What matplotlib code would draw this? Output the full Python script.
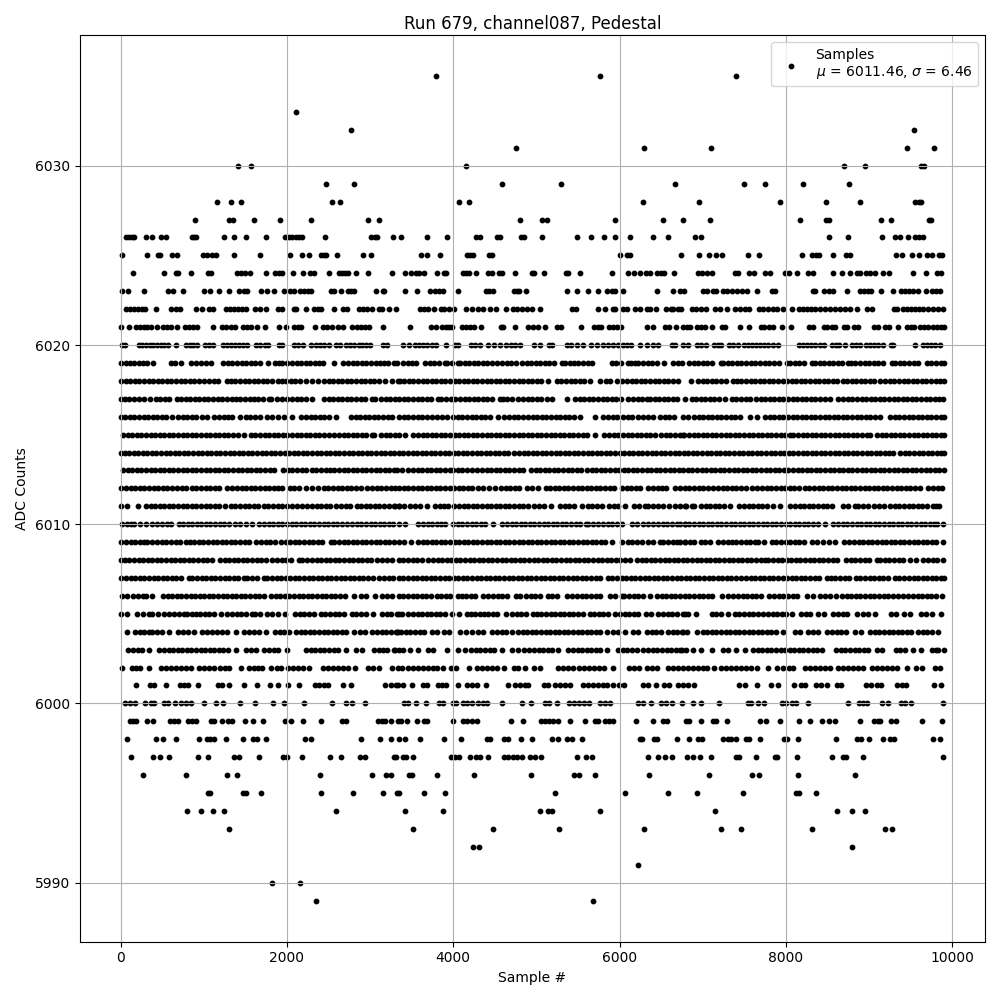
import numpy as np
import matplotlib
matplotlib.use('Agg')
import matplotlib.pyplot as plt

# sample numbers, one list per ADC level
s6035 = [3794, 5767, 7404]
s6033 = [2113]
s6032 = [2775, 9545]
s6031 = [4757, 6296, 7103, 9453, 9786]
s6030 = [1416, 1572, 4155, 8703, 8956, 9629, 9665]
s6029 = [2474, 2811, 4588, 5298, 6669, 7500, 7753, 8210, 8763]
s6028 = [1163, 1331, 1452, 2546, 2643, 4071, 4191, 6284, 6959, 7933, 8486, 8895, 9557, 9605, 9629]
s6027 = [898, 1307, 1355, 1608, 1921, 2294, 2980, 3112, 4805, 5069, 5130, 5948, 6525, 6766, 7091, 8174,
         8486, 8522, 9148, 9268, 9726, 9750]
s6026 = [68, 104, 140, 164, 309, 381, 489, 549, 862, 886, 910, 1247, 1367, 1512, 1752, 1981, 2029, 2065,
         2105, 2145, 2177, 2462, 3016, 3064, 3088, 3280, 3373, 3686, 3927, 4275, 4323, 4528, 4564, 4817,
         4853, 5069, 5490, 5659, 5815, 5948, 6128, 6405, 6585, 6910, 6983, 8522, 8751, 9160, 9316, 9377,
         9473, 9557, 9605, 9653]
s6025 = [20, 321, 453, 477, 622, 682, 994, 1042, 1103, 1151, 1367, 1680, 2041, 2185, 2270, 2414, 2446,
         2474, 2606, 2919, 3016, 3614, 3686, 3842, 4167, 4203, 4239, 4432, 4468, 6008, 6092, 6128, 6738,
         6959, 7079, 7163, 7235, 7540, 7680, 8198, 8318, 8366, 8402, 8570, 8727, 8775, 9329, 9401, 9521,
         9605, 9701, 9762, 9846, 9882]
s6024 = [152, 525, 670, 694, 850, 1055, 1091, 1403, 1452, 1500, 1560, 1752, 1861, 1909, 1945, 2077, 2197,
         2282, 2330, 2510, 2630, 2667, 2703, 2739, 2835, 2980, 3268, 3421, 3493, 3554, 3590, 3650, 3806,
         3890, 3914, 4119, 4155, 4191, 4275, 4420, 4468, 4552, 4588, 4745, 4949, 4973, 5093, 5358, 5382,
         5527, 5911, 6104, 6176, 6248, 6321, 6369, 6453, 6501, 6537, 6657, 6947, 6995, 7055, 7115, 7392,
         7428, 7560, 7620, 7753, 7813, 7993, 8041, 8137, 8270, 8330, 8570, 8679, 8775, 8859, 8895, 8968,
         9016, 9076, 9172, 9244, 9533, 9689, 9822, 9870]
s6023 = [20, 92, 285, 573, 634, 754, 1006, 1079, 1187, 1307, 1428, 1488, 1524, 1692, 1764, 1849, 1969,
         2041, 2089, 2161, 2210, 2258, 2294, 2534, 2570, 2655, 2739, 2775, 2811, 3076, 3160, 3172, 3421,
         3566, 3722, 3782, 3830, 3878, 4059, 4396, 4432, 4480, 4733, 4769, 4793, 4877, 5370, 5490, 5623,
         5743, 5851, 5911, 5948, 6044, 6453, 6645, 6730, 6774, 7007, 7055, 7127, 7163, 7247, 7295, 7356,
         7416, 7476, 7536, 7656, 7837, 7873, 8330, 8354, 8462, 8522, 8570, 8739, 8895, 8944, 8992, 9028,
         9148, 9293, 9389, 9437, 9485, 9533, 9593, 9689, 9762, 9810, 9858]
s6022 = [68, 116, 164, 212, 261, 297, 429, 610, 670, 718, 910, 982, 1067, 1115, 1271, 1319, 1367, 1416,
         1464, 1504, 1620, 1680, 1752, 1897, 1945, 2085, 2113, 2230, 2326, 2374, 2410, 2566, 2679, 2727,
         2871, 2919, 2967, 3028, 3112, 3148, 3232, 3309, 3602, 3650, 3698, 3770, 3854, 3890, 3951, 4011,
         4155, 4227, 4300, 4360, 4444, 4516, 4636, 4720, 4769, 4829, 4889, 4949, 5045, 5430, 5478, 5743,
         5827, 5924, 5948, 6044, 6092, 6188, 6248, 6333, 6369, 6441, 6561, 6621, 6645, 6705, 6741, 6874,
         6922, 6983, 7043, 7151, 7211, 7295, 7392, 7452, 7512, 7560, 7680, 7729, 7789, 7849, 7897, 7969,
         8077, 8162, 8210, 8258, 8306, 8354, 8414, 8474, 8535, 8595, 8655, 8715, 8775, 8859, 8980, 9040,
         9304, 9341, 9413, 9461, 9509, 9557, 9605, 9653, 9713, 9774, 9834, 9894]
s6021 = [8, 104, 188, 237, 285, 321, 369, 441, 513, 561, 610, 682, 778, 826, 874, 922, 1115, 1223, 1271,
         1331, 1380, 1476, 1524, 1572, 1644, 1740, 1905, 1993, 2089, 2137, 2173, 2342, 2438, 2486, 2546,
         2618, 2679, 2787, 2847, 2895, 2943, 2991, 3160, 3481, 3734, 3794, 3866, 3914, 3951, 3987, 4107,
         4155, 4203, 4251, 4336, 4576, 4600, 4745, 4901, 4961, 5021, 5105, 5250, 5298, 5539, 5695, 5743,
         5779, 5875, 5924, 5972, 6020, 6333, 6405, 6549, 6597, 6681, 6766, 6814, 6850, 6934, 6983, 7031,
         7115, 7235, 7271, 7452, 7560, 7704, 7741, 7801, 7849, 7957, 8065, 8282, 8330, 8462, 8498, 8559,
         8595, 8703, 8739, 8823, 8871, 9064, 9112, 9196, 9244, 9353, 9461, 9509, 9545, 9617, 9665, 9713,
         9774, 9822, 9870, 9899]
s6020 = [10, 50, 220, 262, 305, 350, 390, 435, 480, 525, 570, 660, 780, 830, 875, 920, 1010, 1060, 1105,
         1235, 1280, 1330, 1375, 1420, 1470, 1515, 1630, 1680, 1730, 1775, 1900, 1940, 2090, 2135, 2190,
         2290, 2345, 2400, 2440, 2510, 2590, 2640, 2710, 2760, 2800, 2860, 2900, 2950, 3000, 3160, 3205,
         3397, 3469, 3542, 3590, 3638, 3686, 3746, 3794, 3914, 4023, 4059, 4215, 4263, 4323, 4420, 4492,
         4564, 4636, 4696, 4745, 4805, 4973, 5045, 5154, 5190, 5370, 5418, 5490, 5563, 5659, 5731, 5803,
         5863, 5924, 5984, 6044, 6092, 6140, 6248, 6333, 6405, 6465, 6633, 6669, 6766, 6826, 6934, 6983,
         7043, 7139, 7187, 7223, 7320, 7368, 7428, 7500, 7548, 7596, 7644, 7692, 7741, 7789, 7849, 7909,
         8162, 8210, 8258, 8306, 8354, 8414, 8462, 8559, 8607, 8643, 8715, 8799, 8847, 8895, 8968, 9016,
         9064, 9112, 9172, 9268, 9293, 9557, 9653, 9701, 9750, 9798, 9858]
s6019 = [8, 60, 110, 165, 215, 270, 320, 393, 601, 654, 730, 850, 905, 960, 1020, 1091, 1235, 1290, 1340,
         1400, 1455, 1510, 1565, 1620, 1675, 1776, 1857, 1905, 1945, 2005, 2060, 2115, 2170, 2225, 2280,
         2335, 2390, 2438, 2570, 2679, 2735, 2790, 2845, 2900, 2955, 3010, 3065, 3120, 3170, 3220, 3292,
         3325, 3397, 3450, 3500, 3546, 3658, 3715, 3770, 3825, 3898, 3919, 3985, 4051, 4079, 4135, 4190,
         4245, 4300, 4355, 4410, 4465, 4520, 4580, 4640, 4695, 4750, 4829, 4881, 4935, 4990, 5045, 5100,
         5155, 5210, 5302, 5342, 5400, 5455, 5503, 5563, 5615, 5663, 5904, 5960, 6020, 6104, 6136, 6180,
         6224, 6284, 6340, 6395, 6450, 6537, 6645, 6700, 6745, 6838, 6890, 6945, 7000, 7055, 7110, 7215,
         7247, 7300, 7355, 7410, 7465, 7520, 7575, 7630, 7690, 7749, 7801, 7860, 7915, 8009, 8049, 8105,
         8160, 8215, 8310, 8350, 8410, 8458, 8515, 8570, 8625, 8680, 8751, 8779, 8835, 8890, 8945, 9000,
         9055, 9110, 9165, 9272, 9313, 9370, 9425, 9480, 9535, 9593, 9693, 9750, 9805, 9860, 9899]
s6018 = [8, 60, 115, 170, 225, 280, 335, 390, 445, 500, 555, 610, 665, 720, 775, 830, 885, 945, 1002,
         1063, 1120, 1175, 1283, 1323, 1380, 1435, 1490, 1545, 1600, 1655, 1710, 1765, 1820, 1893, 1937,
         1990, 2045, 2100, 2155, 2234, 2302, 2374, 2440, 2506, 2554, 2610, 2665, 2720, 2775, 2830, 2885,
         2940, 2995, 3050, 3108, 3176, 3268, 3340, 3357, 3410, 3465, 3520, 3575, 3630, 3685, 3740, 3795,
         3850, 3905, 3960, 4015, 4070, 4125, 4180, 4235, 4290, 4345, 4400, 4455, 4510, 4565, 4620, 4675,
         4730, 4785, 4840, 4895, 4950, 5005, 5060, 5142, 5242, 5300, 5355, 5410, 5465, 5520, 5575, 5643,
         5763, 5831, 5890, 5964, 6032, 6090, 6145, 6200, 6255, 6310, 6365, 6420, 6475, 6530, 6585, 6640,
         6705, 6858, 6947, 7000, 7055, 7110, 7165, 7220, 7275, 7368, 7408, 7465, 7520, 7575, 7630, 7685,
         7740, 7795, 7850, 7905, 7960, 8015, 8070, 8125, 8180, 8235, 8290, 8345, 8400, 8455, 8510, 8565,
         8620, 8691, 8731, 8790, 8845, 8900, 8955, 9010, 9065, 9132, 9192, 9250, 9305, 9360, 9415, 9470,
         9525, 9580, 9635, 9690, 9745, 9800, 9855, 9899]
s6017 = [0, 50, 105, 160, 215, 281, 349, 421, 475, 530, 585, 682, 722, 780, 835, 890, 945, 1000, 1055,
         1110, 1165, 1220, 1275, 1343, 1383, 1440, 1495, 1550, 1604, 1652, 1715, 1784, 1813, 1875, 1945,
         2001, 2060, 2115, 2170, 2225, 2306, 2446, 2500, 2555, 2610, 2665, 2720, 2775, 2830, 2885, 2940,
         3028, 3060, 3128, 3185, 3240, 3295, 3348, 3405, 3460, 3515, 3570, 3625, 3680, 3735, 3818, 3858,
         3915, 3970, 4025, 4080, 4135, 4190, 4245, 4300, 4355, 4410, 4465, 4560, 4600, 4650, 4700, 4781,
         4840, 4895, 4950, 5005, 5060, 5121, 5190, 5370, 5462, 5520, 5575, 5630, 5685, 5740, 5795, 5850,
         5905, 5960, 6015, 6104, 6164, 6220, 6275, 6325, 6365, 6420, 6475, 6530, 6585, 6640, 6695, 6786,
         6866, 6918, 6975, 7030, 7085, 7140, 7195, 7267, 7348, 7405, 7460, 7515, 7568, 7640, 7695, 7750,
         7805, 7860, 7915, 7970, 8025, 8080, 8135, 8190, 8245, 8300, 8355, 8410, 8470, 8535, 8631, 8690,
         8745, 8800, 8855, 8910, 8965, 9020, 9075, 9130, 9185, 9240, 9295, 9350, 9405, 9460, 9515, 9570,
         9625, 9680, 9735, 9790, 9845, 9894]
s6016 = [0, 55, 110, 165, 220, 275, 330, 385, 440, 495, 550, 622, 690, 745, 800, 854, 910, 975, 1043,
         1127, 1185, 1240, 1295, 1343, 1432, 1504, 1560, 1615, 1670, 1764, 1825, 1895, 1965, 2065, 2173,
         2230, 2285, 2340, 2395, 2450, 2505, 2586, 2767, 2825, 2880, 2935, 2990, 3045, 3100, 3155, 3210,
         3265, 3348, 3405, 3457, 3515, 3570, 3625, 3680, 3738, 3798, 3860, 3930, 3999, 4055, 4110, 4165,
         4220, 4275, 4330, 4385, 4440, 4540, 4612, 4670, 4725, 4781, 4841, 4900, 4955, 5010, 5065, 5120,
         5175, 5230, 5285, 5340, 5395, 5450, 5522, 5703, 5803, 5860, 5915, 5970, 6044, 6104, 6144, 6216,
         6284, 6345, 6405, 6485, 6540, 6595, 6650, 6766, 6826, 6894, 6950, 7005, 7060, 7115, 7170, 7225,
         7280, 7335, 7390, 7448, 7568, 7656, 7749, 7805, 7860, 7915, 7970, 8025, 8080, 8135, 8190, 8245,
         8300, 8355, 8410, 8465, 8520, 8575, 8630, 8685, 8740, 8795, 8850, 8905, 8960, 9015, 9070, 9132,
         9253, 9310, 9365, 9420, 9475, 9530, 9585, 9640, 9695, 9750, 9805, 9860, 9899]
s6015 = [28, 85, 140, 195, 250, 305, 360, 415, 470, 525, 580, 635, 690, 745, 800, 855, 902, 962, 1020,
         1075, 1130, 1185, 1240, 1295, 1350, 1405, 1484, 1564, 1620, 1675, 1730, 1785, 1840, 1895, 1950,
         2005, 2060, 2115, 2170, 2225, 2280, 2335, 2390, 2445, 2506, 2566, 2625, 2680, 2735, 2790, 2845,
         2900, 2955, 3028, 3048, 3128, 3185, 3240, 3295, 3348, 3417, 3518, 3575, 3630, 3685, 3740, 3795,
         3850, 3905, 3960, 4015, 4070, 4125, 4180, 4235, 4290, 4345, 4400, 4455, 4510, 4565, 4620, 4675,
         4730, 4785, 4840, 4895, 4950, 5005, 5060, 5115, 5170, 5225, 5280, 5335, 5390, 5445, 5500, 5555,
         5610, 5703, 5815, 5875, 5930, 5985, 6040, 6095, 6150, 6205, 6260, 6315, 6370, 6425, 6497, 6555,
         6610, 6665, 6766, 6726, 6780, 6835, 6890, 6945, 7000, 7055, 7110, 7165, 7220, 7275, 7330, 7385,
         7440, 7495, 7550, 7605, 7660, 7715, 7770, 7825, 7880, 7935, 7990, 8049, 8089, 8145, 8200, 8255,
         8310, 8365, 8420, 8475, 8530, 8585, 8640, 8695, 8750, 8805, 8860, 8915, 8970, 9012, 9092, 9150,
         9205, 9260, 9315, 9370, 9425, 9480, 9535, 9590, 9645, 9700, 9755, 9810, 9865, 9899]
s6014 = [0, 50, 100, 155, 210, 265, 320, 375, 430, 485, 540, 595, 650, 705, 760, 815, 870, 925, 980, 1035,
         1090, 1145, 1200, 1255, 1310, 1365, 1420, 1475, 1530, 1585, 1640, 1695, 1750, 1805, 1860, 1915,
         1970, 2025, 2080, 2135, 2190, 2245, 2300, 2355, 2410, 2465, 2520, 2575, 2630, 2685, 2740, 2795,
         2850, 2905, 2960, 3015, 3070, 3125, 3180, 3235, 3290, 3345, 3400, 3455, 3510, 3565, 3620, 3675,
         3730, 3785, 3840, 3895, 3950, 4005, 4060, 4115, 4170, 4225, 4280, 4335, 4390, 4445, 4500, 4555,
         4610, 4660, 4733, 4790, 4845, 4900, 4955, 5010, 5065, 5120, 5175, 5230, 5285, 5340, 5395, 5450,
         5505, 5560, 5615, 5670, 5725, 5780, 5835, 5890, 5945, 6000, 6055, 6110, 6165, 6220, 6275, 6330,
         6385, 6440, 6495, 6550, 6605, 6660, 6715, 6770, 6825, 6880, 6935, 6990, 7045, 7100, 7155, 7210,
         7265, 7320, 7375, 7430, 7485, 7540, 7595, 7650, 7705, 7760, 7815, 7870, 7925, 7980, 8035, 8090,
         8145, 8200, 8255, 8310, 8365, 8420, 8475, 8530, 8585, 8640, 8695, 8750, 8805, 8860, 8915, 8970,
         9025, 9080, 9135, 9190, 9245, 9292, 9373, 9430, 9485, 9540, 9595, 9650, 9705, 9760, 9815, 9870,
         9899]
s6013 = [28, 85, 140, 195, 250, 305, 360, 415, 470, 525, 580, 635, 690, 745, 800, 855, 910, 965, 1020,
         1075, 1130, 1185, 1240, 1295, 1350, 1405, 1460, 1515, 1570, 1625, 1680, 1735, 1790, 1845, 1953,
         2010, 2065, 2120, 2175, 2230, 2298, 2354, 2410, 2466, 2514, 2570, 2625, 2680, 2735, 2790, 2845,
         2900, 2955, 3010, 3065, 3120, 3175, 3230, 3285, 3328, 3377, 3457, 3515, 3570, 3625, 3680, 3735,
         3790, 3845, 3900, 3955, 3999, 4059, 4110, 4159, 4219, 4285, 4348, 4400, 4455, 4510, 4565, 4620,
         4675, 4730, 4785, 4841, 4933, 4990, 5045, 5100, 5155, 5210, 5265, 5320, 5375, 5430, 5485, 5540,
         5603, 5663, 5720, 5775, 5830, 5885, 5940, 5995, 6050, 6105, 6160, 6215, 6270, 6325, 6380, 6435,
         6490, 6545, 6600, 6655, 6710, 6765, 6820, 6875, 6930, 6985, 7040, 7095, 7150, 7205, 7260, 7315,
         7370, 7425, 7480, 7535, 7590, 7645, 7700, 7755, 7810, 7865, 7920, 7975, 8030, 8085, 8140, 8195,
         8250, 8305, 8360, 8415, 8470, 8525, 8580, 8635, 8690, 8745, 8800, 8855, 8910, 8965, 9020, 9075,
         9130, 9185, 9240, 9295, 9350, 9405, 9460, 9515, 9570, 9625, 9680, 9735, 9790, 9845, 9899]
s6012 = [8, 65, 120, 175, 230, 285, 340, 395, 450, 505, 561, 622, 680, 735, 790, 854, 910, 965, 1020, 1075,
         1130, 1185, 1283, 1343, 1400, 1455, 1510, 1565, 1620, 1675, 1730, 1785, 1840, 1895, 1945, 2033,
         2090, 2145, 2226, 2306, 2375, 2446, 2498, 2555, 2610, 2665, 2720, 2775, 2830, 2887, 2967, 3025,
         3080, 3135, 3190, 3245, 3300, 3348, 3405, 3460, 3515, 3570, 3625, 3680, 3735, 3790, 3845, 3900,
         3955, 4010, 4065, 4120, 4175, 4230, 4300, 4360, 4430, 4500, 4572, 4630, 4685, 4740, 4795, 4889,
         4949, 5021, 5109, 5165, 5220, 5275, 5330, 5385, 5440, 5495, 5550, 5605, 5660, 5715, 5770, 5825,
         5880, 5935, 6024, 6084, 6140, 6195, 6250, 6345, 6405, 6465, 6505, 6560, 6665, 6726, 6786, 6840,
         6895, 6950, 7005, 7067, 7127, 7185, 7240, 7295, 7350, 7405, 7460, 7515, 7588, 7656, 7715, 7770,
         7825, 7880, 7935, 7990, 8045, 8100, 8155, 8230, 8282, 8340, 8395, 8450, 8505, 8560, 8615, 8670,
         8725, 8780, 8835, 8890, 8945, 9000, 9055, 9110, 9165, 9220, 9275, 9330, 9385, 9440, 9495, 9550,
         9613, 9713, 9770, 9825, 9880]
s6011 = [0, 80, 212, 301, 360, 415, 470, 525, 580, 635, 690, 745, 802, 854, 910, 965, 1020, 1075, 1130,
         1183, 1251, 1323, 1380, 1435, 1490, 1545, 1600, 1655, 1724, 1776, 1835, 1890, 1945, 2000, 2055,
         2125, 2185, 2245, 2300, 2355, 2410, 2465, 2520, 2586, 2646, 2705, 2760, 2847, 2887, 2945, 3000,
         3055, 3110, 3165, 3228, 3288, 3348, 3297, 3350, 3410, 3477, 3538, 3600, 3678, 3778, 3835, 3890,
         3939, 4011, 4070, 4125, 4180, 4235, 4290, 4345, 4400, 4455, 4510, 4565, 4620, 4675, 4730, 4785,
         4840, 4901, 4973, 5030, 5085, 5174, 5282, 5340, 5395, 5450, 5543, 5615, 5670, 5725, 5791, 5871,
         5930, 5985, 6064, 6172, 6235, 6305, 6337, 6405, 6465, 6520, 6593, 6665, 6725, 6786, 6798, 6866,
         6894, 6975, 7035, 7090, 7145, 7200, 7255, 7327, 7436, 7495, 7550, 7605, 7660, 7715, 7770, 7841,
         7929, 8049, 8110, 8165, 8220, 8275, 8330, 8385, 8440, 8495, 8551, 8691, 8750, 8831, 8871, 8930,
         8985, 9060, 9124, 9180, 9253, 9310, 9365, 9420, 9475, 9530, 9585, 9640, 9693, 9766, 9810, 9846]
s6010 = [12, 70, 120, 160, 237, 309, 381, 441, 500, 555, 610, 702, 750, 805, 860, 915, 970, 1025, 1080,
         1135, 1190, 1245, 1303, 1375, 1440, 1504, 1584, 1664, 1724, 1780, 1835, 1890, 1945, 2000, 2055,
         2110, 2165, 2220, 2275, 2330, 2385, 2440, 2495, 2550, 2605, 2667, 2727, 2785, 2840, 2895, 2950,
         3005, 3060, 3115, 3170, 3225, 3280, 3348, 3417, 3578, 3640, 3700, 3738, 3798, 3850, 3898, 3999,
         4055, 4110, 4165, 4220, 4275, 4330, 4385, 4480, 4588, 4645, 4700, 4755, 4810, 4865, 4920, 4975,
         5030, 5085, 5140, 5195, 5250, 5305, 5360, 5415, 5470, 5525, 5591, 5615, 5683, 5745, 5800, 5855,
         5910, 5965, 6024, 6152, 6215, 6284, 6345, 6405, 6465, 6520, 6575, 6630, 6685, 6786, 6726, 6785,
         6840, 6895, 6950, 7005, 7060, 7115, 7170, 7225, 7280, 7335, 7390, 7445, 7500, 7555, 7610, 7665,
         7720, 7775, 7830, 7885, 7940, 7995, 8050, 8105, 8160, 8215, 8270, 8325, 8380, 8470, 8571, 8630,
         8685, 8740, 8795, 8850, 8905, 8960, 9015, 9070, 9125, 9180, 9235, 9290, 9345, 9400, 9455, 9510,
         9565, 9620, 9675, 9730, 9785, 9814, 9894]
s6009 = [8, 65, 120, 175, 230, 285, 321, 381, 440, 495, 550, 605, 660, 715, 782, 830, 885, 940, 995, 1050,
         1105, 1160, 1215, 1270, 1325, 1380, 1435, 1490, 1545, 1624, 1684, 1745, 1800, 1853, 1925, 1985,
         2040, 2095, 2150, 2205, 2260, 2315, 2370, 2425, 2526, 2566, 2625, 2680, 2735, 2790, 2845, 2900,
         2955, 3010, 3065, 3120, 3175, 3230, 3285, 3348, 3405, 3489, 3570, 3630, 3685, 3740, 3795, 3850,
         3905, 3960, 4015, 4070, 4125, 4180, 4235, 4290, 4345, 4400, 4455, 4510, 4565, 4620, 4675, 4730,
         4785, 4840, 4895, 4950, 5005, 5060, 5115, 5170, 5225, 5280, 5335, 5390, 5445, 5500, 5555, 5610,
         5665, 5720, 5775, 5830, 5903, 6024, 6104, 6152, 6210, 6265, 6337, 6405, 6485, 6525, 6585, 6640,
         6695, 6786, 6726, 6790, 6845, 6900, 6975, 7027, 7085, 7187, 7247, 7307, 7348, 7405, 7460, 7515,
         7570, 7625, 7668, 7737, 7829, 7881, 7940, 7995, 8050, 8105, 8160, 8215, 8310, 8370, 8440, 8522,
         8591, 8699, 8763, 8820, 8875, 8930, 8985, 9040, 9095, 9150, 9205, 9260, 9315, 9370, 9425, 9480,
         9535, 9590, 9645, 9700, 9755, 9810, 9894]
s6008 = [0, 50, 105, 160, 215, 270, 325, 380, 435, 490, 545, 600, 655, 710, 765, 820, 875, 930, 985, 1040,
         1103, 1191, 1250, 1305, 1360, 1415, 1470, 1525, 1580, 1635, 1690, 1745, 1817, 1877, 1935, 1990,
         2045, 2145, 2185, 2245, 2300, 2355, 2410, 2465, 2520, 2575, 2630, 2685, 2740, 2795, 2850, 2905,
         2960, 3015, 3088, 3148, 3205, 3260, 3348, 3400, 3455, 3510, 3565, 3618, 3698, 3755, 3810, 3865,
         3920, 3975, 4030, 4085, 4140, 4195, 4250, 4305, 4360, 4415, 4470, 4525, 4580, 4635, 4690, 4745,
         4800, 4855, 4910, 4965, 5020, 5075, 5130, 5185, 5240, 5295, 5350, 5405, 5460, 5515, 5570, 5625,
         5680, 5735, 5790, 5845, 5900, 5955, 6010, 6065, 6120, 6204, 6264, 6320, 6375, 6430, 6485, 6540,
         6595, 6650, 6705, 6760, 6815, 6870, 6925, 6980, 7035, 7090, 7145, 7200, 7255, 7310, 7365, 7420,
         7475, 7530, 7585, 7640, 7695, 7749, 7789, 7845, 7900, 7955, 8010, 8065, 8120, 8175, 8230, 8285,
         8340, 8395, 8450, 8510, 8563, 8620, 8723, 8779, 8835, 8890, 8945, 9000, 9092, 9132, 9190, 9245,
         9300, 9355, 9410, 9493, 9565, 9653, 9710, 9765, 9820, 9894]
s6007 = [8, 65, 120, 175, 230, 285, 340, 395, 450, 505, 560, 615, 670, 725, 822, 862, 920, 975, 1030, 1085,
         1140, 1195, 1250, 1305, 1360, 1415, 1484, 1524, 1580, 1635, 1724, 1764, 1820, 1875, 1930, 1985,
         2040, 2095, 2150, 2205, 2260, 2315, 2370, 2425, 2480, 2535, 2590, 2645, 2700, 2755, 2810, 2865,
         2920, 2975, 3030, 3108, 3168, 3225, 3280, 3348, 3400, 3455, 3510, 3565, 3620, 3675, 3730, 3785,
         3840, 3895, 3950, 4005, 4060, 4115, 4170, 4225, 4280, 4335, 4390, 4445, 4500, 4555, 4610, 4665,
         4720, 4775, 4830, 4885, 4940, 4995, 5050, 5105, 5160, 5215, 5270, 5325, 5380, 5435, 5490, 5545,
         5600, 5655, 5710, 5765, 5863, 5911, 5970, 6025, 6080, 6135, 6190, 6245, 6300, 6355, 6410, 6465,
         6520, 6575, 6630, 6685, 6740, 6795, 6850, 6905, 6960, 7015, 7070, 7125, 7180, 7235, 7290, 7345,
         7400, 7460, 7520, 7575, 7630, 7685, 7740, 7795, 7850, 7905, 7960, 8015, 8070, 8125, 8180, 8235,
         8290, 8345, 8400, 8490, 8538, 8595, 8650, 8705, 8760, 8843, 8891, 8950, 9005, 9060, 9115, 9170,
         9225, 9313, 9365, 9425, 9480, 9535, 9590, 9645, 9700, 9755, 9810, 9865, 9899]
s6006 = [12, 80, 148, 210, 269, 309, 381, 509, 565, 620, 675, 730, 785, 840, 895, 950, 1005, 1060, 1115,
         1170, 1225, 1280, 1335, 1390, 1445, 1500, 1555, 1610, 1665, 1724, 1805, 1865, 1920, 1975, 2030,
         2085, 2140, 2195, 2250, 2305, 2360, 2415, 2470, 2525, 2580, 2635, 2699, 2807, 2887, 2955, 3060,
         3148, 3205, 3260, 3348, 3400, 3455, 3510, 3565, 3620, 3675, 3730, 3798, 3850, 3910, 3965, 4059,
         4099, 4155, 4210, 4265, 4360, 4420, 4480, 4535, 4590, 4645, 4749, 4797, 4869, 4930, 4985, 5040,
         5142, 5190, 5250, 5362, 5430, 5490, 5545, 5600, 5655, 5710, 5765, 5883, 5944, 6024, 6056, 6115,
         6170, 6225, 6280, 6365, 6445, 6505, 6560, 6615, 6670, 6725, 6786, 6840, 6895, 6950, 7005, 7060,
         7115, 7227, 7307, 7368, 7425, 7480, 7535, 7590, 7645, 7700, 7801, 7857, 7915, 7970, 8025, 8080,
         8135, 8250, 8322, 8410, 8470, 8525, 8603, 8671, 8730, 8785, 8840, 8895, 8950, 9005, 9060, 9115,
         9180, 9232, 9293, 9353, 9413, 9473, 9530, 9585, 9640, 9695, 9750, 9805, 9874]
s6005 = [0, 80, 200, 270, 341, 381, 450, 521, 581, 640, 700, 762, 802, 860, 910, 950, 1010, 1065, 1120,
         1203, 1283, 1340, 1395, 1450, 1505, 1584, 1616, 1675, 1764, 1825, 1890, 1977, 2097, 2155, 2210,
         2265, 2320, 2410, 2462, 2520, 2575, 2630, 2685, 2787, 2835, 2895, 2955, 3040, 3140, 3200, 3255,
         3348, 3317, 3385, 3457, 3515, 3570, 3625, 3680, 3735, 3790, 3845, 3900, 3979, 4067, 4159, 4215,
         4259, 4319, 4365, 4412, 4472, 4530, 4632, 4700, 4760, 4815, 4870, 4961, 5001, 5060, 5115, 5170,
         5225, 5280, 5335, 5390, 5445, 5500, 5555, 5643, 5691, 5750, 5805, 5860, 5944, 6004, 6060, 6115,
         6170, 6225, 6313, 6377, 6465, 6525, 6580, 6635, 6690, 6786, 6766, 6825, 6918, 7107, 7160, 7215,
         7307, 7388, 7436, 7495, 7550, 7605, 7668, 7729, 7785, 7840, 7895, 7950, 8005, 8069, 8178, 8240,
         8295, 8390, 8458, 8571, 8630, 8685, 8740, 8851, 8932, 8990, 9072, 9261, 9320, 9421, 9497, 9621,
         9680, 9754, 9870]
s6004 = [80, 173, 230, 285, 341, 381, 440, 495, 581, 694, 750, 805, 882, 982, 1040, 1095, 1163, 1223, 1280,
         1383, 1484, 1545, 1600, 1664, 1752, 1853, 1910, 1965, 2029, 2105, 2165, 2220, 2275, 2330, 2385,
         2440, 2495, 2550, 2605, 2660, 2715, 2807, 2875, 2935, 3028, 3080, 3140, 3195, 3250, 3308, 3340,
         3317, 3375, 3430, 3485, 3540, 3595, 3650, 3738, 3806, 3890, 3950, 4079, 4147, 4227, 4300, 4360,
         4460, 4520, 4580, 4635, 4708, 4773, 4835, 4890, 4945, 5000, 5055, 5110, 5165, 5220, 5275, 5330,
         5385, 5440, 5495, 5550, 5605, 5660, 5715, 5770, 5843, 5924, 5985, 6064, 6164, 6224, 6325, 6385,
         6440, 6495, 6585, 6645, 6685, 6754, 6758, 6815, 6926, 6999, 7055, 7110, 7165, 7220, 7275, 7330,
         7385, 7440, 7495, 7550, 7605, 7660, 7715, 7770, 7825, 7880, 7969, 8109, 8170, 8270, 8322, 8390,
         8498, 8555, 8610, 8665, 8720, 8831, 8907, 9012, 9070, 9125, 9180, 9235, 9290, 9345, 9400, 9455,
         9510, 9593, 9653, 9700, 9754, 9834]
s6003 = [92, 150, 205, 260, 341, 461, 520, 575, 630, 685, 740, 795, 850, 905, 960, 1015, 1070, 1125, 1180,
         1235, 1290, 1383, 1512, 1565, 1624, 1724, 1785, 1840, 1895, 2005, 2226, 2285, 2340, 2395, 2450,
         2505, 2560, 2615, 2715, 2835, 2907, 3048, 3105, 3160, 3208, 3288, 3348, 3297, 3397, 3477, 3570,
         3690, 3758, 3927, 4051, 4139, 4211, 4270, 4325, 4380, 4440, 4492, 4580, 4708, 4781, 4853, 4915,
         4970, 5025, 5080, 5135, 5190, 5262, 5382, 5440, 5495, 5550, 5605, 5660, 5715, 5770, 5843, 5976,
         6035, 6090, 6145, 6204, 6284, 6345, 6400, 6455, 6510, 6565, 6620, 6675, 6745, 6726, 6800, 6886,
         6983, 7115, 7239, 7300, 7400, 7508, 7600, 7660, 7715, 7770, 7825, 7880, 7935, 7990, 8045, 8100,
         8155, 8210, 8265, 8320, 8375, 8430, 8603, 8660, 8715, 8770, 8825, 8880, 8935, 8992, 9092, 9152,
         9325, 9373, 9437, 9533, 9629, 9754, 9800, 9834, 9899]
s6002 = [20, 140, 188, 237, 345, 489, 549, 610, 670, 730, 790, 850, 946, 1006, 1067, 1127, 1199, 1259, 1307,
         1452, 1548, 1608, 1656, 1704, 1813, 1885, 1933, 2017, 2077, 2137, 2197, 2270, 2438, 2498, 2558,
         2618, 2679, 2739, 2823, 2980, 3040, 3112, 3268, 3337, 3385, 3457, 3518, 3578, 3638, 3698, 3758,
         3806, 3878, 3975, 4035, 4191, 4287, 4348, 4408, 4468, 4528, 4612, 4733, 4781, 4865, 4973, 5045,
         5262, 5322, 5382, 5442, 5515, 5575, 5635, 5695, 5755, 5815, 5924, 6116, 6176, 6236, 6333, 6393,
         6453, 6585, 6645, 6705, 6766, 6826, 6886, 6947, 7007, 7055, 7139, 7223, 7283, 7344, 7404, 7464,
         7524, 7584, 7656, 7789, 7897, 7969, 8041, 8089, 8234, 8294, 8354, 8414, 8474, 8535, 8631, 8691,
         8751, 8811, 8871, 8931, 9040, 9100, 9160, 9220, 9280, 9341, 9457, 9569, 9641, 9798, 9858]
s6001 = [188, 357, 405, 549, 718, 766, 814, 934, 1175, 1223, 1307, 1488, 1644, 1801, 1897, 2017, 2149, 2342,
         2390, 2450, 2498, 2679, 2771, 3184, 3256, 3316, 3337, 3397, 3506, 3638, 3686, 3818, 3866, 3914,
         4059, 4167, 4227, 4287, 4396, 4660, 4745, 4805, 4865, 4901, 5093, 5142, 5226, 5286, 5346, 5406,
         5563, 5623, 5683, 5743, 5803, 5851, 5924, 5996, 6056, 6284, 6345, 6441, 6537, 6597, 6705, 6766,
         6826, 6898, 7440, 7512, 7656, 7825, 7909, 8101, 8186, 8234, 8366, 8426, 8498, 8619, 8667, 8968,
         9028, 9100, 9148, 9341, 9401, 9449, 9786, 9870]
s6000 = [56, 116, 176, 297, 369, 405, 525, 573, 658, 730, 790, 850, 1006, 1151, 1235, 1440, 1620, 1837,
         1969, 2210, 2546, 2715, 2787, 2943, 3409, 3457, 3554, 3674, 3830, 3878, 3999, 4035, 4119, 4167,
         4227, 4300, 4360, 4408, 4588, 4829, 4937, 5105, 5154, 5250, 5394, 5454, 5515, 5575, 5635, 5767,
         5827, 5887, 6224, 6284, 6381, 6501, 6561, 6633, 6753, 6886, 6983, 7199, 7548, 7584, 7668, 7741,
         7957, 8005, 8077, 8125, 8270, 8751, 8883, 8931, 8980, 9160, 9232, 9389, 9437, 9509, 9894]
s5999 = [116, 148, 180, 321, 393, 597, 646, 694, 814, 862, 910, 1091, 1127, 1223, 1295, 1343, 1500, 1596,
         1716, 1981, 2053, 2197, 2414, 2667, 2715, 3100, 3148, 3184, 3256, 3340, 3373, 3445, 3566, 3650,
         3686, 3999, 4119, 4167, 4227, 4287, 4696, 4841, 5057, 5105, 5154, 5202, 5262, 5406, 5587, 5707,
         5743, 5827, 5875, 5924, 6200, 6405, 6525, 6573, 6802, 6838, 6983, 7127, 7163, 7295, 7692, 7765,
         7933, 8162, 8294, 8438, 8522, 8595, 8895, 9064, 9112, 9136, 9268, 9329, 9641, 9882]
s5998 = [80, 429, 513, 670, 946, 1043, 1079, 1127, 1271, 1476, 1596, 1644, 1752, 2222, 2294, 2895, 3124,
         3256, 3349, 3421, 3602, 3890, 4095, 4408, 4444, 4612, 4660, 4817, 4949, 5190, 5262, 5370, 5430,
         5551, 6248, 6272, 6417, 6453, 6693, 6838, 6947, 6995, 7247, 7307, 7344, 7404, 7524, 7560, 7692,
         7981, 8017, 8150, 8607, 8859, 8907, 9004, 9172, 9256, 9304, 9774, 9858]
s5997 = [128, 393, 477, 585, 934, 1055, 1367, 1428, 1668, 1957, 2005, 2185, 2522, 2655, 2883, 2943, 3292,
         3309, 3397, 3433, 3518, 3975, 4023, 4071, 4203, 4275, 4323, 4420, 4612, 4660, 4720, 4769, 4829,
         4925, 4985, 5057, 5490, 5599, 5671, 6345, 6465, 6549, 6633, 6814, 6886, 6971, 7103, 7404, 7440,
         7644, 7873, 7897, 8137, 8559, 8691, 8727, 8931, 9894]
s5996 = [273, 790, 1283, 1403, 2402, 3028, 3196, 3256, 3469, 3506, 3806, 4251, 4937, 5454, 5515, 5707, 6357,
         7079, 7596, 7680, 8150, 8835]
s5995 = [1055, 1079, 1476, 1512, 1692, 2414, 2799, 3160, 3328, 3349, 3650, 3902, 5226, 6068, 6585, 6934,
         7488, 8125, 8162, 8366]
s5994 = [802, 970, 1115, 1247, 2594, 3421, 3878, 5045, 5142, 5190, 5767, 7151, 8619, 8799, 8956]
s5993 = [1307, 3518, 4480, 5274, 6296, 7223, 7464, 8318, 9196, 9280]
s5992 = [4239, 4311, 8799]
s5991 = [6224]
s5990 = [1825, 2161]
s5989 = [2354, 5683]

levels = [6035, 6033, 6032, 6031, 6030, 6029, 6028, 6027, 6026, 6025, 6024, 6023, 6022, 6021, 6020, 6019, 6018,
          6017, 6016, 6015, 6014, 6013, 6012, 6011, 6010, 6009, 6008, 6007, 6006, 6005, 6004, 6003, 6002, 6001,
          6000, 5999, 5998, 5997, 5996, 5995, 5994, 5993, 5992, 5991, 5990, 5989]
samples = [s6035, s6033, s6032, s6031, s6030, s6029, s6028, s6027, s6026, s6025, s6024, s6023, s6022, s6021, s6020,
           s6019, s6018, s6017, s6016, s6015, s6014, s6013, s6012, s6011, s6010, s6009, s6008, s6007, s6006, s6005,
           s6004, s6003, s6002, s6001, s6000, s5999, s5998, s5997, s5996, s5995, s5994, s5993, s5992, s5991, s5990,
           s5989]

x = np.concatenate(samples)
y = np.concatenate([[lev] * len(s) for lev, s in zip(levels, samples)])

plt.figure(figsize = (10, 10))
plt.scatter(x, y, s = 10, color = 'black', label = 'Samples\n$\\mu$ = 6011.46, $\\sigma$ = 6.46')
plt.title('Run 679, channel087, Pedestal', pad = 4.5)
plt.xlabel('Sample #')
plt.ylabel('ADC Counts')
plt.grid()
plt.legend(loc = 'upper right')
plt.tight_layout()
plt.subplots_adjust(top = 0.965)
plt.savefig('out.png', dpi = 100)
